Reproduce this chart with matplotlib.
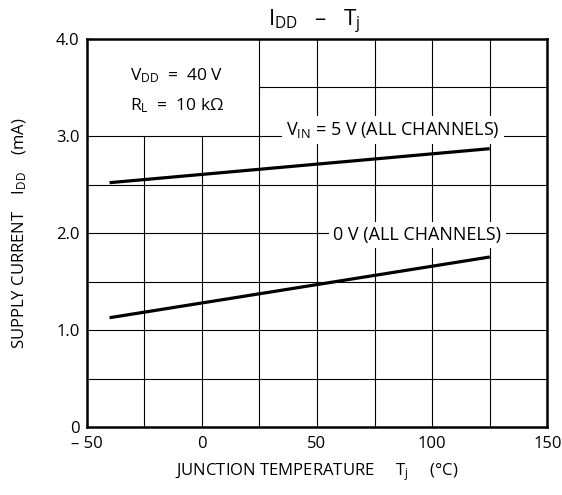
import matplotlib
matplotlib.use('Agg')
import matplotlib.pyplot as plt

plt.rcParams['font.family'] = ['Open Sans', 'DejaVu Sans']
plt.rcParams['mathtext.fontset'] = 'custom'
plt.rcParams['mathtext.rm'] = 'Open Sans'
plt.rcParams['mathtext.it'] = 'Open Sans:italic'

# data
temp = [-40, 125]
idd_5v = [2.52, 2.87]
idd_0v = [1.13, 1.755]

x_ticks = [-50, 0, 50, 100, 150]
x_tick_labels = ['\u2013 50', '0', '50', '100', '150']
y_ticks = [0, 1.0, 2.0, 3.0, 4.0]
y_tick_labels = ['0', '1.0', '2.0', '3.0', '4.0']

fig = plt.figure(figsize=(5.62, 4.95), dpi=100)
ax = fig.add_axes([0.154, 0.1364, 0.820, 0.785])

ax.set_xlim(-50, 150)
ax.set_ylim(0, 4.0)

# grid, drawn by hand so the upper-left note area stays empty
grid_kw = dict(color='black', linewidth=0.8, zorder=1)
for x in [-25, 0]:
    ax.vlines(x, 0, 3.0, **grid_kw)
for x in [25, 50, 75, 100, 125]:
    ax.vlines(x, 0, 4.0, **grid_kw)
for y in [0.5, 1.0, 1.5, 2.0, 2.5, 3.0]:
    ax.hlines(y, -50, 150, **grid_kw)
ax.hlines(3.5, 25, 150, **grid_kw)

ax.plot(temp, idd_5v, color='black', linewidth=2.3, solid_capstyle='butt', zorder=3)
ax.plot(temp, idd_0v, color='black', linewidth=2.3, solid_capstyle='butt', zorder=3)

box = dict(facecolor='white', edgecolor='none', pad=3)
ax.text(83, 3.06, r'$\mathrm{V_{IN}}$ = 5 V (ALL CHANNELS)', ha='center', va='center',
        fontsize=13, bbox=box, zorder=4)
ax.text(93.6, 1.98, '0 V (ALL CHANNELS)', ha='center', va='center',
        fontsize=13, bbox=box, zorder=4)

ax.text(-31, 3.62, r'$\mathrm{V_{DD}}$  =  40 V', ha='left', va='center', fontsize=12.5, zorder=4)
ax.text(-31, 3.31, r'$\mathrm{R_L}$  =  10 k$\Omega$', ha='left', va='center', fontsize=12.5, zorder=4)

ax.set_xticks(x_ticks)
ax.set_xticklabels(x_tick_labels)
ax.set_yticks(y_ticks)
ax.set_yticklabels(y_tick_labels)
ax.tick_params(length=0, labelsize=12)
ax.tick_params(axis='x', pad=6)
ax.tick_params(axis='y', pad=5)

for s in ax.spines.values():
    s.set_linewidth(1.8)
    s.set_zorder(5)

fig.text(0.559, 0.955, '$\\mathrm{I_{DD}}$   \u2013   $\\mathrm{T_j}$',
         ha='center', va='center', fontsize=16)
fig.text(0.564, 0.047, r'JUNCTION TEMPERATURE     $\mathrm{T_j}$     (°C)',
         ha='center', va='center', fontsize=12)
fig.text(0.036, 0.529, r'SUPPLY CURRENT    $\mathrm{I_{DD}}$    (mA)',
         ha='center', va='center', rotation=90, fontsize=12)

fig.savefig('out.png', dpi=100)
